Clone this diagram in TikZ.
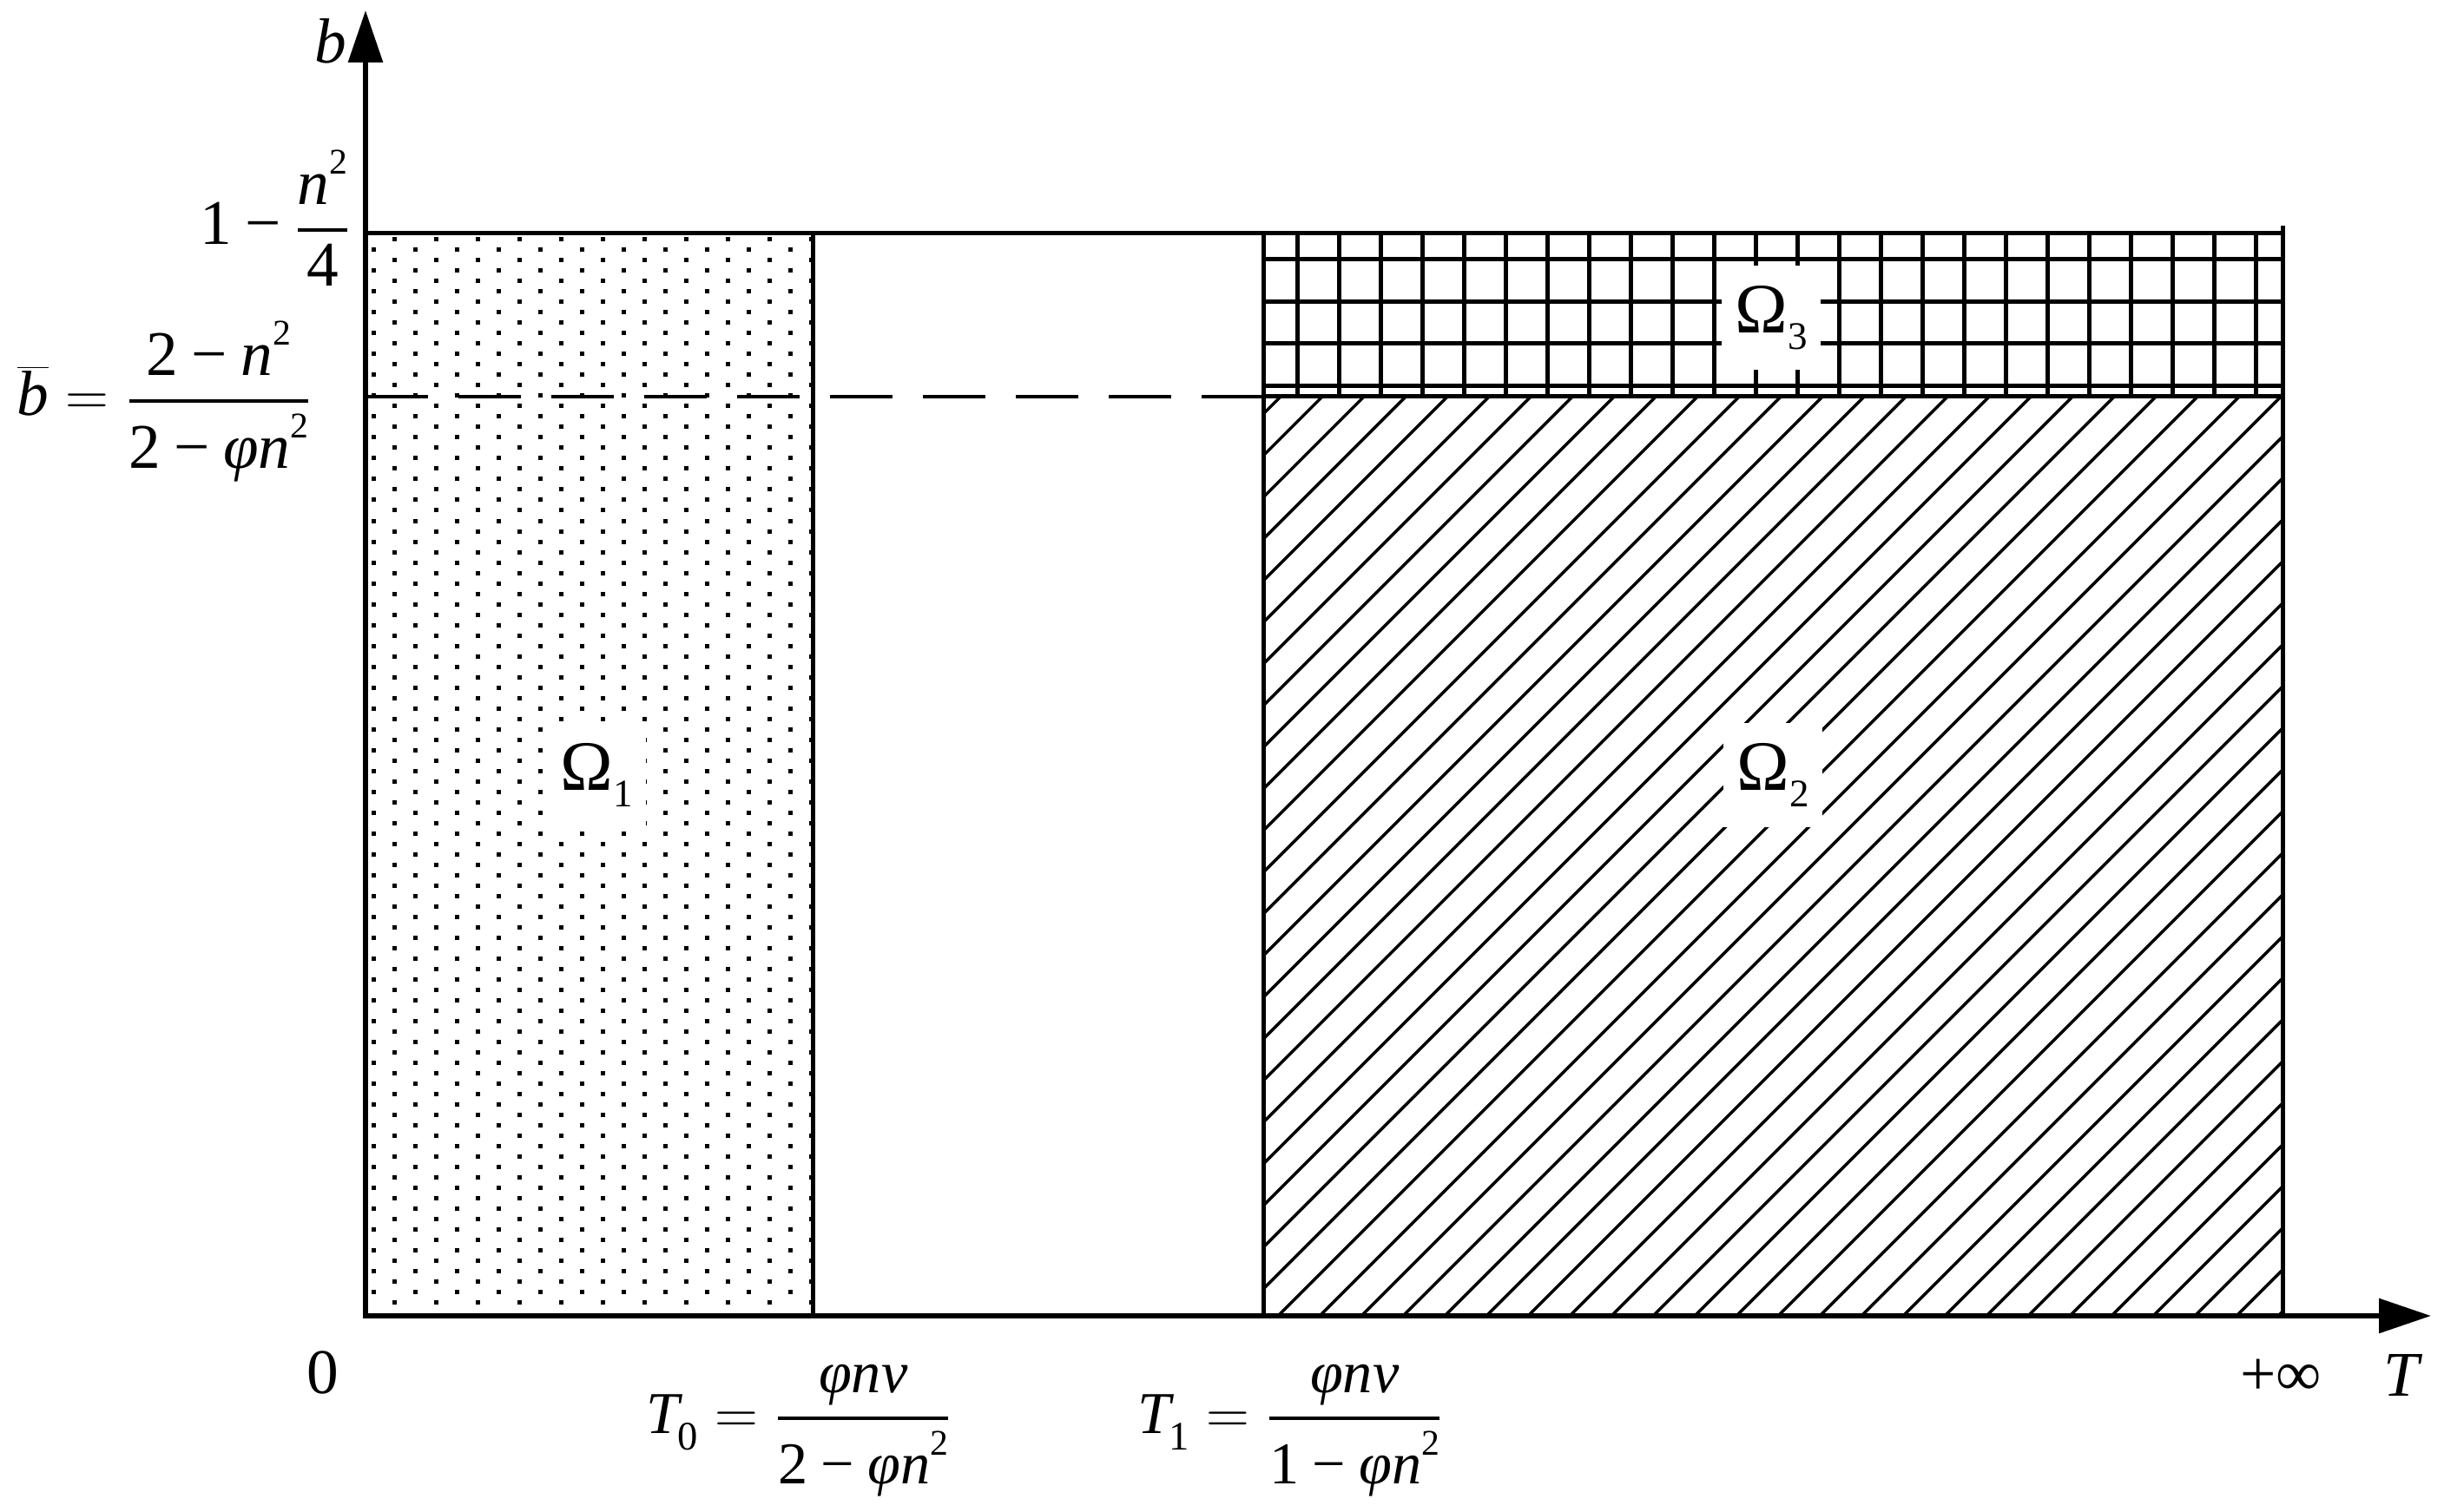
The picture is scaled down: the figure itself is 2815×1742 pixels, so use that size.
\documentclass[tikz,border=0pt]{standalone}
\usepackage{fontspec}
\setmainfont{Liberation Serif}
\usetikzlibrary{arrows.meta}
\newcommand{\iv}[1]{\textit{#1}}
\newcommand{\sqr}{\raisebox{0.48em}{\fontsize{12.5}{13}\selectfont 2}}
\newcommand{\mm}{\mathbin{\hbox{−}}}
\newcommand{\subd}[1]{\raisebox{-5.7pt}{\fontsize{14}{14}\selectfont #1}}
\tikzset{
  axisline/.style={line width=1.8pt},
  frameline/.style={line width=1.5pt},
  gridline/.style={line width=1.5pt},
  hatchline/.style={line width=1.05pt},
  dashline/.style={line width=1.35pt, dash pattern=on 21.6pt off 10.5pt},
  labA/.style={font=\fontsize{22}{26}\selectfont, inner sep=0pt},
  labB/.style={font=\fontsize{20.5}{24}\selectfont, inner sep=0pt},
  omega/.style={fill=white, inner sep=0pt, minimum width=34pt, minimum height=36pt, font=\fontsize{24.5}{28}\selectfont},
  arr/.style={-{Triangle[length=18pt,width=11.7pt]}}
}
\begin{document}
\begin{tikzpicture}[x=0.3pt,y=-0.3pt]
\useasboundingbox (0,0) rectangle (2815,1742);
% dotted region Omega_1
\foreach \y in {276,300,...,1512} \foreach \x in {454,502,...,934} \fill (\x-2.5,\y-2.5) rectangle ++(5,5);
\foreach \y in {288,312,...,1500} \foreach \x in {430,478,...,910} \fill (\x-2.5,\y-2.5) rectangle ++(5,5);
% hatched region Omega_2
\begin{scope}
  \clip (1455,457) rectangle (2629,1516);
  \foreach \c in {1932,1980,...,4140} \draw[hatchline] (\c-1516,1516) -- (\c-457,457);
\end{scope}
% grid region Omega_3
\foreach \x in {1494,1542,...,2598} \draw[gridline] (\x,269) -- (\x,457);
\foreach \y in {299,348,396,445} \draw[gridline] (1455,\y) -- (2629,\y);
% frame lines
\draw[frameline] (421,269) -- (2629,269);
\draw[frameline] (936,269) -- (936,1516);
\draw[frameline] (1455,269) -- (1455,1516);
\draw[frameline] (2629,260) -- (2629,1516);
\draw[dashline] (421,457) -- (1455,457);
\draw[frameline] (1455,457) -- (2629,457);
% region labels
\node[omega] (om1) at (687,893) {Ω\subd{\fontsize{13.5}{14}\selectfont 1}};
\node[omega] (om2) at (2042,893) {Ω\subd{\fontsize{13.5}{14}\selectfont 2}};
\node[omega] (om3) at (2040,366) {Ω\subd{\fontsize{13.5}{14}\selectfont 3}};
% axes
\coordinate (O) at (421,1516);
\coordinate (xend) at (2800,1516);
\coordinate (yend) at (421,12);
\draw[axisline, arr] (418,1516) -- (xend);
\draw[axisline, arr] (421,1519) -- (yend);
% axis labels
\node[labA, anchor=base] (blab) at (381,73) {\iv{b}};
\node[labA, anchor=base] (tlab) at (2768,1608) {\iv{T}};
\node[labA, anchor=base] (orig) at (372,1605) {0};
\node[labA, anchor=base] (pinf) at (2627,1607) {+∞};
\node[labA, anchor=base east] (onem) at (405,282)
  {$\displaystyle \hbox{1}\mm{\hbox{\iv{n}\sqr}\above1.3pt\hbox{4}}$};
\node[labA, anchor=base east] (bbar) at (360,479)
  {$\displaystyle \overline{\hbox{\iv{b}}}={\hbox{2}\mm\hbox{\iv{n}\sqr}\above1.3pt\hbox{2}\mm\hbox{\iv{φn}\sqr}}$};
\node[labB, anchor=base east] (tzero) at (1097,1651)
  {$\displaystyle \hbox{\iv{T}\kern-0.08em\subd{0}}={\hbox{\iv{φnv}}\above1.3pt\hbox{2}\mm\hbox{\iv{φn}\sqr}}$};
\node[labB, anchor=base east] (tone) at (1663,1651)
  {$\displaystyle \hbox{\iv{T}\kern-0.08em\subd{1}}={\hbox{\iv{φnv}}\above1.3pt\hbox{1}\mm\hbox{\iv{φn}\sqr}}$};
\end{tikzpicture}
\end{document}
